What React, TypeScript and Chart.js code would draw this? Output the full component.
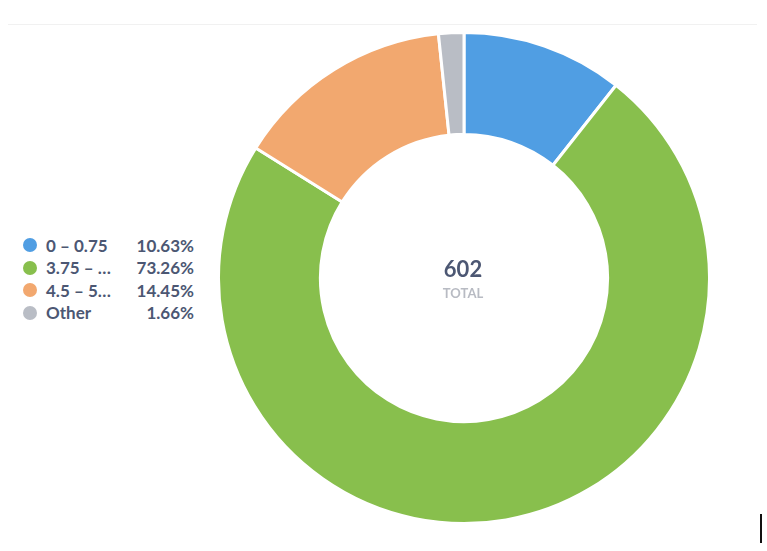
import { useEffect, useRef } from 'react'
import { Chart, registerables } from 'chart.js'

Chart.register(...registerables)

// Slices (the long labels are cut short in the original legend)
const labels = ['0 – 0.75', '3.75 – …', '4.5 – 5…', 'Other']
const values = [64, 441, 87, 10]
const colors = ['#509EE3', '#88BF4D', '#F2A86F', '#B9BDC5']

const total = values.reduce((a, b) => a + b, 0)

function formatPercent(v: number) {
  return `${((v / total) * 100).toFixed(2)}%`
}

const textColor = '#4C5773'

export default function App() {
  const canvasRef = useRef<HTMLCanvasElement>(null)
  const chartRef = useRef<Chart | null>(null)

  useEffect(() => {
    if (!canvasRef.current) return
    chartRef.current?.destroy()

    chartRef.current = new Chart(canvasRef.current, {
      type: 'doughnut',
      data: {
        labels,
        datasets: [{
          data: values,
          backgroundColor: colors,
          borderColor: '#ffffff',
          borderWidth: 3,
          hoverOffset: 0,
        }],
      },
      options: {
        responsive: false,
        animation: false,
        cutout: '58.5%',
        layout: { padding: 0 },
        plugins: {
          legend: { display: false },
          tooltip: { enabled: false },
        },
      },
    })

    return () => {
      chartRef.current?.destroy()
    }
  }, [])

  return (
    <div style={{
      position: 'fixed', left: 0, top: 0, width: 767, height: 551,
      background: '#fff', fontFamily: 'Lato, sans-serif', overflow: 'hidden',
    }}>
      {/* top divider */}
      <div style={{ position: 'absolute', left: 8, top: 24, width: 749, height: 1, background: '#F1F1F1' }} />

      {/* legend */}
      <div style={{ position: 'absolute', left: 23, top: 234 }}>
        {labels.map((l, i) => (
          <div key={l} style={{ display: 'flex', alignItems: 'center', height: 22.5 }}>
            <span style={{
              width: 14, height: 14, borderRadius: '50%', background: colors[i],
              display: 'inline-block', marginRight: 9,
            }} />
            <span style={{ width: 80, fontSize: 17, fontWeight: 700, color: textColor, whiteSpace: 'nowrap' }}>{l}</span>
            <span style={{ width: 68, textAlign: 'right', fontSize: 17, fontWeight: 700, color: textColor }}>
              {formatPercent(values[i])}
            </span>
          </div>
        ))}
      </div>

      <canvas
        ref={canvasRef}
        width={494}
        height={494}
        style={{ position: 'absolute', left: 217, top: 30.5, width: 494, height: 494 }}
        aria-label="Donut chart"
        role="img"
      />

      {/* center total */}
      <div style={{ position: 'absolute', left: 363, top: 255, width: 200, textAlign: 'center' }}>
        <div style={{ fontSize: 22, fontWeight: 700, color: textColor, lineHeight: '28px' }}>{total}</div>
        <div style={{ fontSize: 13, fontWeight: 700, color: '#B8BBC3', lineHeight: '14px', marginTop: 3 }}>TOTAL</div>
      </div>

      {/* cursor mark */}
      <div style={{ position: 'absolute', left: 760, top: 514, width: 2, height: 29, background: '#111' }} />
    </div>
  )
}
